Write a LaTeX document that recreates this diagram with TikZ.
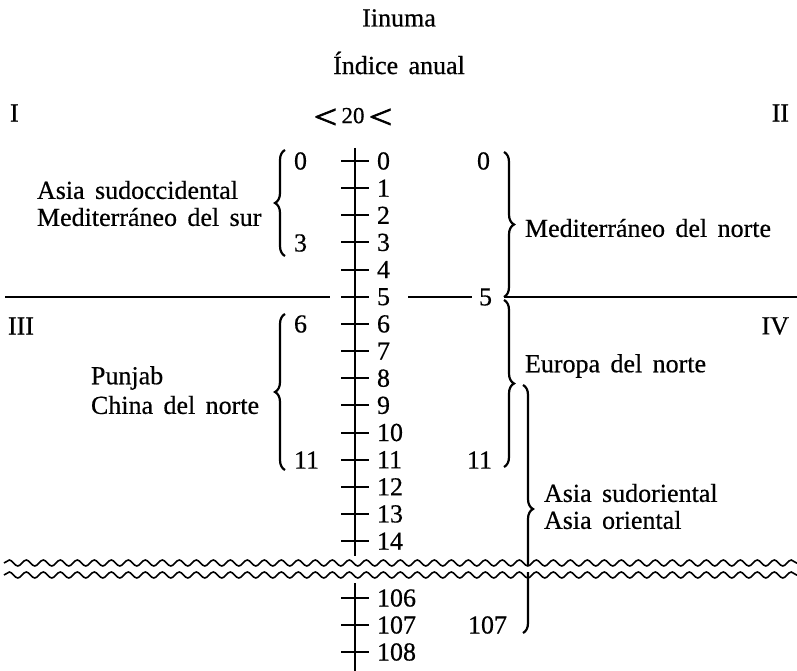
\documentclass[tikz,border=0pt]{standalone}
\usepackage{graphicx}
\usepackage{fontspec}
\setmainfont{Liberation Serif}[WordSpace=1.6, FakeBold=0.5]
\usetikzlibrary{positioning, decorations.pathreplacing, decorations.pathmorphing}

\begin{document}
\begin{tikzpicture}[x=1pt, y=-1pt, line width=2pt, font=\fontsize{26}{30}\selectfont,
    txt/.style={inner sep=0pt, anchor=west},
    rnum/.style={inner sep=0pt, anchor=east},
    brc/.style={decorate, decoration={brace, amplitude=10pt}, line width=2.2pt},
    wave/.style={decorate, decoration={snake, segment length=17pt, amplitude=3pt}, line width=1.6pt}]
    \useasboundingbox (0,0) rectangle (797,671);
    % heading
    \node (title) at (399,18) {Iinuma};
    \node (subtitle) at (399,63) {Índice anual};
    \node (ratio) at (353,118) {\raisebox{-5pt}{\scalebox{1.6}[1.3]{\addfontfeature{FakeBold=2}<}}\,{\fontsize{23}{23}\selectfont 20}\,\raisebox{-5pt}{\scalebox{1.6}[1.3]{\addfontfeature{FakeBold=2}<}}};
    \node [txt] (qI) at (9,113) {I};
    \node [rnum] (qII) at (790,113) {II};
    \node [txt] (qIII) at (7,326) {III};
    \node [rnum] (qIV) at (790,326) {IV};
    % axis
    \draw [line width=2.6pt] (355,148) -- (355,556);
    \draw [line width=2.6pt] (355,583) -- (355,671);
    \foreach \n in {0,...,14} {
        \draw (341,161+27.15*\n) -- (369,161+27.15*\n);
        \node [txt] (t\n) at (376,161+27.15*\n) {\n};
    }
    \foreach \n/\y in {106/598, 107/625, 108/652} {
        \draw (341,\y) -- (369,\y);
        \node [txt] (t\n) at (376,\y) {\n};
    }
    % dividing line
    \node [rnum] (r5) at (493,297) {5};
    \coordinate (b1s) at (504,152);
    \coordinate (b1e) at (504,297);
    \draw (5,297) -- (330,297);
    \draw (408,297) -- (472,297);
    \draw (b1e) -- (797,297);
    % left groups
    \node [txt] (l0) at (293,161) {0};
    \node [txt] (l3) at (293,243) {3};
    \node [txt] (l6) at (293,324) {6};
    \node [txt] (l11) at (293,460) {11};
    \coordinate (bAs) at (285,256);
    \coordinate (bAe) at (285,150);
    \coordinate (bBs) at (285,470);
    \coordinate (bBe) at (285,314);
    \draw [brc] (bAs) -- (bAe);
    \draw [brc] (bBs) -- (bBe);
    \node [txt] (asw) at (36,190) {Asia sudoccidental};
    \node [txt] (msur) at (36,217) {Mediterráneo del sur};
    \node [txt] (pun) at (90,378) {Punjab};
    \node [txt] (chn) at (90,405) {China del norte};
    % right groups
    \node [rnum] (r0) at (491,161) {0};
    \node [rnum] (r11) at (493,460) {11};
    \node [rnum] (r107) at (508,625) {107};
    \coordinate (b2s) at (504,300);
    \coordinate (b2e) at (504,467);
    \coordinate (b3s) at (523,385);
    \coordinate (b3e) at (523,633);
    \draw [brc] (b1s) -- (b1e);
    \draw [brc] (b2s) -- (b2e);
    \draw [brc] (b3s) -- (b3e);
    \node [txt] (mnor) at (524,228) {Mediterráneo del norte};
    \node [txt] (eur) at (524,366) {Europa del norte};
    \node [txt] (ase) at (543,493) {Asia sudoriental};
    \node [txt] (aor) at (543,520) {Asia oriental};
    % break
    \fill [white] (0,566) rectangle (797,572);
    \draw [wave] (4,563) -- (797,563);
    \draw [wave] (4,575) -- (797,575);
\end{tikzpicture}
\end{document}
